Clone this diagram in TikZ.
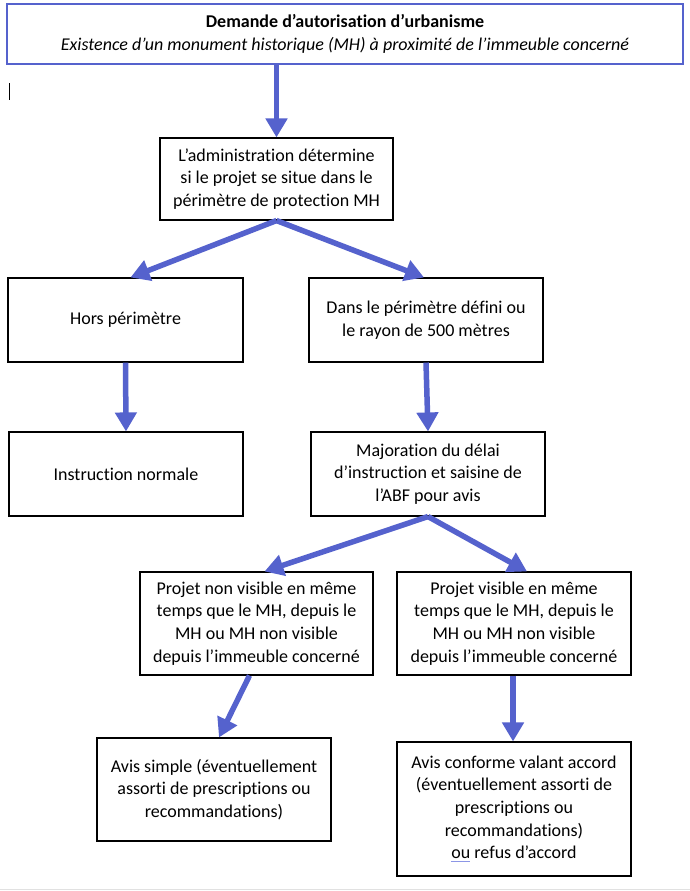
\documentclass[tikz,border=0pt]{standalone}
\usepackage{fontspec}
\setmainfont{Carlito}[Ligatures=NoCommon]
\usetikzlibrary{arrows.meta}
\definecolor{arrblue}{RGB}{85,98,205}
\definecolor{ulblue}{RGB}{140,150,230}
\definecolor{rulegray}{RGB}{225,225,225}
\newcommand\blueul[1]{\leavevmode\setbox0\hbox{#1}\rlap{\color{ulblue}\rule[-3.5pt]{\wd0}{1.6pt}}\box0}
\tikzset{
  box/.style={draw=black, line width=1.1pt, rectangle, align=center, inner sep=0pt,
    font=\fontsize{18}{22.7}\selectfont},
  arr/.style={draw=arrblue, line width=5.5pt, -{Triangle[length=19pt,width=21pt]}},
}
\begin{document}
\begin{tikzpicture}[x=1pt,y=-1pt]
\useasboundingbox (0,0) rectangle (690,891);
\fill[white] (0,0) rectangle (690,891);
\draw[rulegray, line width=1.2pt] (0,889.5) -- (690,889.5);
\draw[black, line width=0.8pt] (9.5,83) -- (9.5,100);

\node[box, draw=arrblue, line width=1.8pt, minimum width=676pt, minimum height=60pt] (top) at (345,34)
  {\textbf{Demande d’autorisation d’urbanisme}\\\textit{Existence d’un monument historique (MH) à proximité de l’immeuble concerné}};
\node[box, minimum width=233pt, minimum height=82pt] (adm) at (276.5,179)
  {L’administration détermine\\si le projet se situe dans le\\périmètre de protection MH};
\node[box, minimum width=235pt, minimum height=84pt] (hors) at (125.5,320) {Hors périmètre};
\node[box, minimum width=234pt, minimum height=84pt] (dans) at (426,320)
  {Dans le périmètre défini ou\\le rayon de 500 mètres};
\node[box, minimum width=234pt, minimum height=84pt] (instr) at (126,474) {Instruction normale};
\node[box, minimum width=234pt, minimum height=84pt] (major) at (428,474)
  {Majoration du délai\\d’instruction et saisine de\\l’ABF pour avis};
\node[box, minimum width=233pt, minimum height=103pt] (nonvis) at (256.5,623.5)
  {Projet non visible en même\\temps que le MH, depuis le\\MH ou MH non visible\\depuis l’immeuble concerné};
\node[box, minimum width=234pt, minimum height=103pt] (vis) at (514,623.5)
  {Projet visible en même\\temps que le MH, depuis le\\MH ou MH non visible\\depuis l’immeuble concerné};
\node[box, minimum width=234pt, minimum height=103pt] (simple) at (214,789.5)
  {Avis simple (éventuellement\\assorti de prescriptions ou\\recommandations)};
\node[box, minimum width=234pt, minimum height=134pt] (conf) at (514,809)
  {Avis conforme valant accord\\(éventuellement assorti de\\prescriptions ou\\recommandations)\\\blueul{ou}\ refus d’accord};

\draw[arr] (adm.north |- top.south) -- (adm.north);
\draw[arr] (adm.south) -- ([xshift=5pt]hors.north);
\draw[arr] (adm.south) -- ([xshift=-2pt]dans.north);
\draw[arr] (hors.south) -- (instr.north);
\draw[arr] (dans.south) -- (major.north);
\draw[arr] (major.south) -- ([xshift=8pt]nonvis.north);
\draw[arr] (major.south) -- ([xshift=13pt]vis.north);
\draw[arr] ([xshift=-7pt]nonvis.south) -- ([xshift=5pt]simple.north);
\draw[arr] ([xshift=-1pt]vis.south) -- ([xshift=-1pt]conf.north);
\end{tikzpicture}
\end{document}
